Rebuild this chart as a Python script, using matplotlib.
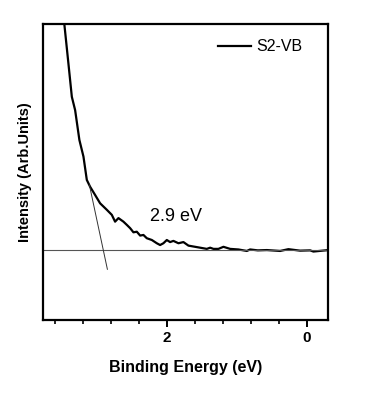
import matplotlib
matplotlib.use("Agg")
import matplotlib.pyplot as plt
from matplotlib.ticker import MultipleLocator

plt.rcParams['font.family'] = ['Liberation Sans', 'DejaVu Sans']

energy = [3.50, 3.463, 3.406, 3.357, 3.310, 3.249, 3.191, 3.143, 3.096, 3.024,
          2.953, 2.857, 2.786, 2.739, 2.691, 2.620, 2.571, 2.524, 2.477, 2.429,
          2.381, 2.334, 2.286, 2.214, 2.143, 2.096, 2.049, 2.000, 1.953, 1.906,
          1.834, 1.763, 1.691, 1.620, 1.524, 1.429, 1.381, 1.334, 1.263, 1.191,
          1.096, 0.977, 0.857, 0.810, 0.700, 0.571, 0.381, 0.263, 0.096, -0.047,
          -0.094, -0.309]
intensity = [107.0, 99.7, 86.7, 75.4, 70.9, 60.8, 55.2, 47.3, 45.0, 42.2,
             39.4, 37.2, 35.5, 33.2, 34.4, 33.2, 32.1, 31.0, 29.6, 29.8,
             28.5, 28.7, 27.6, 27.0, 25.9, 25.3, 25.9, 27.0, 26.3, 26.7,
             25.9, 26.3, 25.1, 24.8, 24.4, 24.0, 24.4, 24.0, 24.0, 24.7,
             24.0, 23.8, 23.3, 23.8, 23.5, 23.6, 23.3, 23.9, 23.4, 23.5,
             23.1, 23.6]
baseline_level = 23.5
tangent_energy = [3.106, 2.849]
tangent_intensity = [45.6, 17.1]
gap_label = "2.9 eV"
series_name = "S2-VB"

fig = plt.figure(figsize=(3.70, 3.93), dpi=100)
ax = fig.add_axes([0.116, 0.186, 0.770, 0.753])

ax.plot(energy, intensity, color='black', lw=1.6, label=series_name)
ax.axhline(baseline_level, color='#555555', lw=0.8)
ax.plot(tangent_energy, tangent_intensity, color='#333333', lw=0.7)
ax.text(1.87, 35.1, gap_label, fontsize=13, ha='center', va='center')

ax.set_xlim(3.77, -0.30)
ax.set_ylim(0, 100)
ax.xaxis.set_major_locator(MultipleLocator(2))
ax.xaxis.set_minor_locator(MultipleLocator(0.4))
ax.set_yticks([])
ax.tick_params(axis='x', which='major', direction='out', length=5, width=1.4,
               labelsize=11, pad=3)
ax.tick_params(axis='x', which='minor', direction='out', length=3, width=1.2)
for lab in ax.get_xticklabels():
    lab.set_fontweight('bold')
for s in ax.spines.values():
    s.set_linewidth(1.6)

ax.set_xlabel("Binding Energy (eV)", fontsize=11.5, fontweight='bold', labelpad=11)
ax.set_ylabel("Intensity (Arb.Units)", fontsize=10.5, fontweight='bold', labelpad=8)

leg = ax.legend(loc='center right', bbox_to_anchor=(0.91, 0.923), frameon=False,
                fontsize=11.5, handlelength=2.1, handletextpad=0.3,
                borderaxespad=0, borderpad=0)

fig.savefig("out.png", dpi=100)
